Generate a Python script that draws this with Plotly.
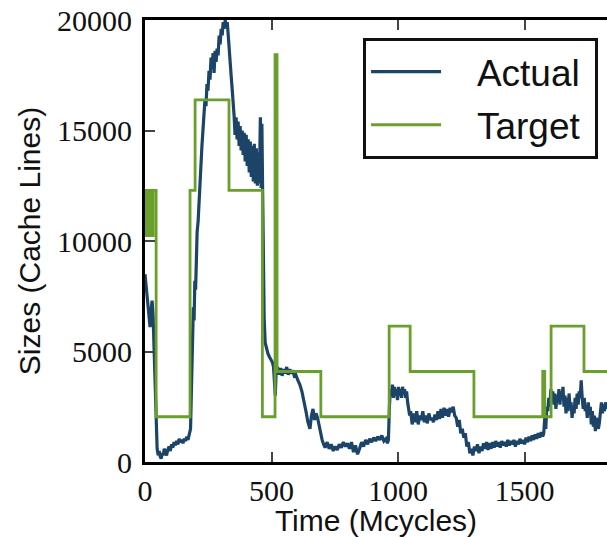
import plotly.graph_objects as go

# Measured cache partition size over time (Mcycles -> cache lines)
actual_t = [0, 4, 8, 12, 16, 20, 24, 28, 32, 36, 40, 44, 48,
            52, 56, 60, 64, 68, 72, 76, 80, 85, 90, 95, 100, 105, 110, 115, 120, 125, 130,
            135, 140, 145, 150, 155, 160, 165, 170, 175, 180, 184, 188, 191, 194, 197, 200,
            203, 206, 210, 213, 217, 221, 225, 229, 233, 237, 241, 245, 249, 253, 257, 261,
            265, 269, 273, 277, 281, 285, 289, 293, 297, 301, 305, 309, 313, 317, 321, 325,
            329, 333, 337, 341, 345, 349, 352,
            356, 360, 364, 368, 372, 376, 380, 384, 388, 392, 396, 400, 404, 408, 412, 416,
            420, 424, 428, 432, 436, 440, 444, 448, 452, 456, 459, 462, 465,
            468, 471, 475, 480, 486, 492, 498, 504, 508, 512, 515, 518, 524, 530, 536, 542,
            548, 554, 560, 566, 572, 578, 584, 590, 596, 604, 612, 620, 628, 636, 644, 652,
            658, 664, 670, 676, 682, 688, 694, 700, 706,
            712, 720, 728, 736, 744, 752, 760, 768, 776, 784, 792, 800, 808, 816, 824, 832,
            840, 848, 856, 864, 872, 880, 888, 896, 904, 912, 920, 928, 936, 944, 952, 958,
            962, 966, 970,
            974, 978, 982, 986, 990, 994, 998, 1002, 1006, 1010, 1014, 1018, 1022, 1026, 1030,
            1034, 1038, 1042, 1046, 1050,
            1056, 1062, 1068, 1074, 1080, 1086, 1092, 1098, 1104, 1110, 1116, 1122, 1128, 1134,
            1140, 1146, 1152, 1158, 1164, 1170, 1176, 1182, 1188, 1194, 1200, 1206, 1212, 1218,
            1224, 1230, 1236, 1242, 1248, 1254, 1260, 1266, 1272, 1278, 1284, 1290, 1296, 1302,
            1308, 1314, 1320, 1326, 1332, 1338, 1344, 1350, 1356, 1362, 1368, 1374, 1380, 1386,
            1392, 1398, 1404, 1410, 1416, 1422, 1428, 1434, 1440, 1446, 1452, 1458, 1464, 1470,
            1476, 1482, 1488, 1494, 1500, 1506, 1512, 1518, 1524, 1530, 1536, 1542, 1548, 1554,
            1560, 1566, 1572, 1576, 1580, 1584, 1588, 1592, 1596, 1600, 1604, 1608, 1612, 1616,
            1620, 1624, 1628, 1632, 1636, 1640, 1644, 1648, 1652, 1656, 1660, 1664, 1668, 1672,
            1676, 1680, 1684, 1688, 1692, 1696, 1700, 1704, 1708, 1712, 1716, 1720, 1724, 1728,
            1732, 1736, 1740, 1744, 1748, 1752, 1756, 1760, 1764, 1768, 1772, 1776, 1780, 1784,
            1788, 1792, 1796, 1800, 1804, 1808, 1812, 1816, 1820, 1826]
actual_v = [8500, 8000, 7300, 6800, 6300, 6100, 6800, 7300, 6600, 5200, 3200, 1500, 600,
            300, 500, 250, 150, 400, 300, 600, 450, 300, 550, 700, 500, 800, 650, 900, 750, 950, 800,
            1050, 900, 1000, 850, 1050, 950, 1150, 1000, 1200, 1500, 3500, 5500, 7000, 6400, 8200, 7800,
            9500, 10400, 10900, 11800, 12600, 13400, 14300, 14900, 15800, 16400, 16100, 17100, 16800, 17700, 17300, 18300,
            17800, 18500, 17600, 18600, 18100, 18700, 18400, 19300, 18900, 19600, 19300, 19900, 19600, 20000, 19700, 19900,
            19300, 18800, 18200, 17400, 16800, 16300, 15700,
            14800, 15600, 14600, 15400, 14300, 15200, 14100, 15000, 13900, 14900, 13600, 14800, 13400, 14600, 13100, 14500,
            12900, 14300, 12700, 14400, 12600, 14200, 12500, 14000, 12600, 15600, 12400, 15300, 12200,
            9000, 6500, 5400, 5100, 4900, 4750, 4600, 4500, 4300, 3500, 3000, 4000, 4300, 3950, 4250, 3900,
            4200, 4000, 4300, 3950, 4200, 4000, 4150, 3900, 3950, 3700, 3500, 3200, 2800, 2300, 1800, 1500,
            2100, 2400, 1900, 2200, 2000, 1600, 1400, 1000, 800,
            650, 900, 600, 800, 500, 700, 550, 800, 650, 900, 700, 850, 600, 900, 450, 750,
            350, 600, 900, 700, 1000, 800, 1050, 900, 1100, 950, 1150, 1000, 1200, 950, 1050, 850,
            1000, 2500, 3300,
            3000, 3500, 2900, 3400, 3000, 3300, 2800, 3400, 3000, 3300, 2900, 3400, 3100, 3300, 2900,
            3200, 2700, 2400, 2100, 2300,
            1700, 2200, 1800, 2300, 1700, 2100, 1900, 2300, 1800, 2100, 1750, 2200, 1900, 2000,
            1800, 2150, 1900, 2300, 1950, 2400, 2000, 2450, 2100, 2400, 2050, 2450, 2250, 2500,
            2100, 2000, 1600, 1900, 1300, 1500, 1100, 1300, 700, 900, 400, 600, 300, 700,
            500, 800, 400, 700, 500, 850, 600, 900, 550, 850, 600, 900, 650, 950,
            700, 900, 650, 950, 750, 900, 700, 1000, 750, 950, 800, 1000, 700, 950,
            800, 1050, 850, 1000, 800, 1100, 900, 1150, 950, 1200, 1000, 1250, 1050, 1300,
            1100, 1350, 1150, 1300, 2000, 1500, 2500, 2300, 2900, 2500, 3300, 2800, 3200, 2600,
            3100, 2400, 3000, 2700, 3300, 2600, 3200, 2900, 3400, 2500, 3000, 2200, 2900, 2300,
            3100, 2500, 2700, 2000, 2500, 2200, 2900, 2400, 3100, 2600, 3200, 2900, 3700, 2900,
            2400, 2900, 2300, 2600, 2000, 2700, 2200, 2500, 1700, 2300, 1600, 2100, 1400, 2000,
            1600, 1500, 1800, 2300, 2700, 2200, 2600, 2300, 2700, 2400]

# Target size set by the allocator: value holds from each change time onward
target_t = [0, 4, 8, 14, 18, 28, 32, 44, 178, 198, 332, 464, 514, 522, 695, 965, 1048,
            1300, 1572, 1580, 1605, 1735, 1826]
target_v = [12288, 10240, 12288, 10240, 12288, 10240, 12288, 2048, 12288, 16384, 12288,
            2048, 18432, 4096, 2048, 6144, 4096, 2048, 4096, 2048, 6144, 4096, 4096]

x_ticks = [0, 500, 1000, 1500]
y_ticks = [0, 5000, 10000, 15000, 20000]

ACTUAL_COLOR = "#1b4468"
TARGET_COLOR = "#6a9f2c"
PAD = "\u00a0"

fig = go.Figure()
fig.add_trace(go.Scatter(x=actual_t, y=actual_v, mode="lines",
                         name=PAD * 3 + "Actual" + PAD, legendgroup="actual",
                         line=dict(color=ACTUAL_COLOR, width=3.2)))
fig.add_trace(go.Scatter(x=target_t, y=target_v, mode="lines",
                         name=PAD * 3 + "Target" + PAD, legendgroup="target",
                         line=dict(color=TARGET_COLOR, width=2.8, shape="hv")))

tick_font = dict(family="Liberation Serif", size=30, color="#111111")
title_font = dict(family="Liberation Sans", size=30, color="#111111")

fig.update_layout(
    width=607, height=537,
    margin=dict(l=145, r=0, t=20, b=75),
    paper_bgcolor="white", plot_bgcolor="white",
    template="none",
    showlegend=True,
    legend=dict(x=0.472, y=0.959, xanchor="left", yanchor="top",
                bgcolor="white", bordercolor="#111111", borderwidth=3,
                font=dict(family="Liberation Sans", size=37, color="#111111"),
                itemwidth=70, tracegroupgap=2),
)
fig.update_xaxes(
    range=[0, 1826], tickvals=x_ticks, ticktext=[str(v) for v in x_ticks],
    showline=True, linecolor="black", linewidth=3, mirror="ticks",
    ticks="inside", ticklen=10, tickwidth=1.5, tickcolor="#444444",
    showgrid=False, zeroline=False, tickfont=tick_font, automargin=False,
    title=dict(text="Time (Mcycles)", font=title_font, standoff=4),
)
fig.update_yaxes(
    range=[0, 20000], tickvals=y_ticks, ticktext=[str(v) for v in y_ticks],
    showline=True, linecolor="black", linewidth=3, mirror=False,
    ticks="inside", ticklen=10, tickwidth=1.5, tickcolor="#444444",
    showgrid=False, zeroline=False, tickfont=tick_font, automargin=False,
    ticklabelstandoff=4,
    title=dict(text="Sizes (Cache Lines)", font=title_font, standoff=8),
)

fig.write_html("out.html")
